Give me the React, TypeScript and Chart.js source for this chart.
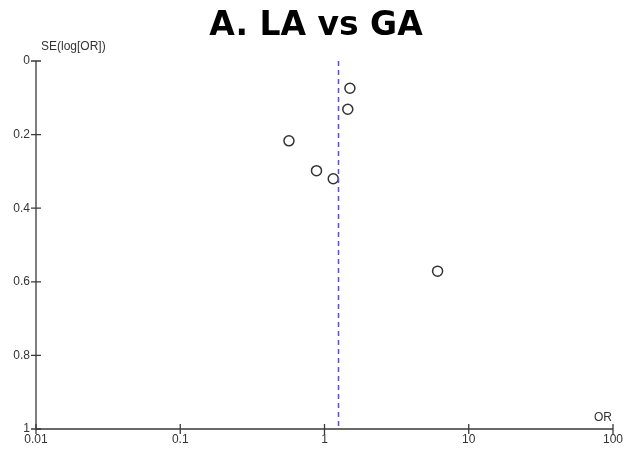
import React, { useEffect, useRef } from "react";
import { Chart, registerables } from "chart.js";

Chart.register(...registerables);

const titleText = "A. LA vs GA";
const yAxisTitle = "SE(log[OR])";
const xAxisTitle = "OR";
const studyOR = [1.5, 1.45, 0.567, 0.88, 1.15, 6.08];
const studySE = [0.074, 0.131, 0.217, 0.298, 0.32, 0.571];
const pooledOR = 1.24;
const xTicks = [0.01, 0.1, 1, 10, 100];
const yTicks = [0, 0.2, 0.4, 0.6, 0.8, 1];

const axisColor = "#3a3a3a";
const textColor = "#333333";

const overlayPlugin = {
  id: "overlay",
  afterDatasetsDraw(chart: any) {
    const ctx = chart.ctx;
    const xs = chart.scales.x;
    const ys = chart.scales.y;
    const area = chart.chartArea;
    ctx.save();
    // pooled estimate dashed line
    const px = Math.round(xs.getPixelForValue(pooledOR)) + 0.5;
    ctx.strokeStyle = "#5555c8";
    ctx.lineWidth = 1.5;
    ctx.setLineDash([5, 4]);
    ctx.beginPath();
    ctx.moveTo(px, ys.getPixelForValue(0));
    ctx.lineTo(px, ys.getPixelForValue(1));
    ctx.stroke();
    ctx.setLineDash([]);
    // axes
    ctx.strokeStyle = axisColor;
    ctx.lineWidth = 1.3;
    const ax = area.left;
    const ay = area.bottom;
    ctx.beginPath();
    ctx.moveTo(ax, area.top);
    ctx.lineTo(ax, ay);
    ctx.lineTo(area.right, ay);
    ctx.stroke();
    // tick marks crossing axes
    ctx.beginPath();
    yTicks.forEach((v) => {
      const y = ys.getPixelForValue(v);
      ctx.moveTo(ax - 5, y);
      ctx.lineTo(ax + 5, y);
    });
    xTicks.forEach((v) => {
      const x = xs.getPixelForValue(v);
      ctx.moveTo(x, ay - 5);
      ctx.lineTo(x, ay + 5);
    });
    ctx.stroke();
    // axis titles
    ctx.fillStyle = textColor;
    ctx.font = "12px 'Liberation Sans', Arial, sans-serif";
    ctx.textAlign = "left";
    ctx.textBaseline = "middle";
    ctx.fillText(yAxisTitle, ax + 5, area.top - 14);
    ctx.textAlign = "right";
    ctx.fillText(xAxisTitle, area.right - 1, ay - 11);
    // title
    ctx.fillStyle = "#000";
    ctx.font = "bold 33px 'DejaVu Sans', Verdana, sans-serif";
    ctx.textAlign = "center";
    ctx.textBaseline = "middle";
    ctx.fillText(titleText, 316, 26);
    ctx.restore();
  },
};

export default function App() {
  const ref = useRef<HTMLCanvasElement | null>(null);
  useEffect(() => {
    if (!ref.current) return;
    const points = studyOR.map((o, i) => ({ x: o, y: studySE[i] }));
    const chart = new Chart(ref.current, {
      type: "scatter",
      data: {
        datasets: [
          {
            data: points,
            pointRadius: 5,
            pointHoverRadius: 5,
            pointBackgroundColor: "#ffffff",
            pointBorderColor: "#333333",
            pointBorderWidth: 1.5,
          },
        ],
      },
      options: {
        animation: false,
        responsive: false,
        events: [],
        layout: { padding: { top: 61, right: 14, left: 0, bottom: 0 } },
        plugins: {
          legend: { display: false },
          title: { display: false },
          tooltip: { enabled: false },
        },
        scales: {
          x: {
            type: "logarithmic",
            min: 0.01,
            max: 100,
            grid: { display: false, drawTicks: false },
            border: { display: false },
            afterBuildTicks: (scale: any) => {
              scale.ticks = xTicks.map((v) => ({ value: v }));
            },
            afterFit: (scale: any) => {
              scale.height = 23;
            },
            ticks: {
              padding: 3,
              color: textColor,
              font: { family: "'Liberation Sans', Arial, sans-serif", size: 12 },
              maxRotation: 0,
              autoSkip: false,
              callback: (v: any) => String(v),
            },
          },
          y: {
            type: "linear",
            reverse: true,
            min: 0,
            max: 1,
            grid: { display: false, drawTicks: false },
            border: { display: false },
            afterBuildTicks: (scale: any) => {
              scale.ticks = yTicks.map((v) => ({ value: v }));
            },
            afterFit: (scale: any) => {
              scale.width = 36;
            },
            ticks: {
              padding: 6,
              color: textColor,
              font: { family: "'Liberation Sans', Arial, sans-serif", size: 12 },
              callback: (v: any) => String(Math.round(Number(v) * 10) / 10),
            },
          },
        },
      },
      plugins: [overlayPlugin],
    });
    return () => chart.destroy();
  }, []);
  return (
    <div style={{ position: "fixed", left: 0, top: 0, width: 627, height: 452, background: "#fff" }}>
      <canvas ref={ref} width={627} height={452} />
    </div>
  );
}
